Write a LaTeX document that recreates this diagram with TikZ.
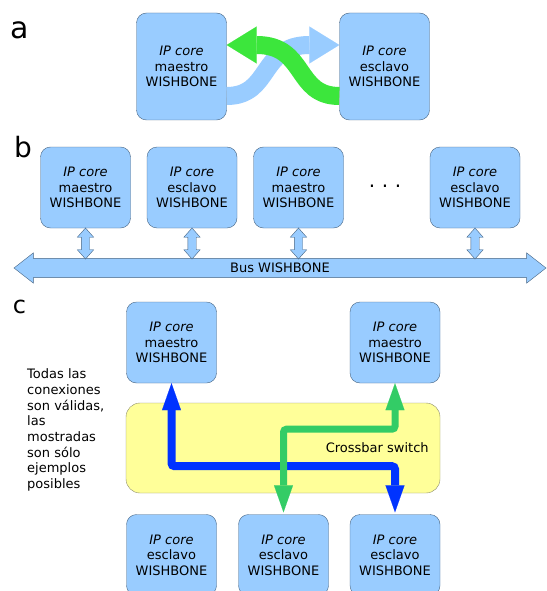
\documentclass[tikz,border=0pt]{standalone}
\usepackage{fontspec}
\setmainfont{DejaVu Sans}
\usetikzlibrary{arrows.meta,shapes.arrows,positioning}

\definecolor{boxfill}{RGB}{153,204,255}
\definecolor{boxline}{RGB}{70,100,130}
\definecolor{xbarfill}{RGB}{255,255,153}
\definecolor{xbarline}{RGB}{140,140,110}
\definecolor{greenA}{RGB}{60,230,60}
\definecolor{greenC}{RGB}{51,204,102}
\definecolor{blueC}{RGB}{0,51,255}

\newcommand{\ipmaestro}{\textit{IP core}\\maestro\\WISHBONE}
\newcommand{\ipesclavo}{\textit{IP core}\\esclavo\\WISHBONE}

\tikzset{
    core/.style={draw=boxline, fill=boxfill, rounded corners=10pt, minimum width=90pt, minimum height=81pt, align=center, inner sep=0pt, font=\fontsize{13}{15.5}\selectfont},
    tall/.style={minimum height=107pt},
    part/.style={font=\fontsize{#1}{#1}\selectfont, inner sep=0pt},
    updown/.style={double arrow, draw=boxline, fill=boxfill, rotate=90, minimum height=31pt, inner sep=4pt, double arrow head extend=4pt, double arrow tip angle=83},
    curvy/.style={line width=18pt, -{Triangle[length=30pt, width=37pt, line width=0.1pt]}},
    route/.style={rounded corners=3pt, {Triangle[length=27pt, width=19pt, line width=0.1pt]}-{Triangle[length=27pt, width=19pt, line width=0.1pt]}}
}

\begin{document}
\begin{tikzpicture}[x=1pt, y=-1pt]
    \path[use as bounding box, fill=white] (0,0) rectangle (546,591);

    % a
    \node[part=30] (la) at (20,30.5) {a};
    \node[core, tall] (a1) at (181.5,66.5) {\ipmaestro};
    \node[core, tall] (a2) at (384.5,66.5) {\ipesclavo};
    \draw[curvy, boxfill] ([yshift=-29.5pt]a1.east) .. controls +(45,0) and +(-80,0) .. ([yshift=21.5pt]a2.west);
    \draw[curvy, greenA] ([yshift=-29.5pt]a2.west) .. controls +(-45,0) and +(80,0) .. ([yshift=21.5pt]a1.east);

    % b
    \node[part=28] (lb) at (23,147.5) {b};
    \node[core] (b1) at (85.5,187.5) {\ipmaestro};
    \node[core] (b2) at (192,187.5) {\ipesclavo};
    \node[core] (b3) at (298.5,187.5) {\ipmaestro};
    \node[core] (b4) at (475,187.5) {\ipesclavo};
    \node[font=\fontsize{20}{20}\selectfont] (dots) at (385,186) {.\,\,.\,\,.};
    \node[double arrow, draw=boxline, fill=boxfill, minimum height=532pt, inner sep=4.5pt, double arrow head extend=5.5pt, double arrow tip angle=76, font=\fontsize{13}{15}\selectfont] (bus) at (280,268) {Bus WISHBONE};
    \foreach \n in {b1,b2,b3,b4}
        \node[updown] (\n-bus) at (\n.south |- 0,243.5) {};

    % c
    \node[part=24] (lc) at (19.5,306.5) {c};
    \node[core] (c1) at (171.5,342.5) {\ipmaestro};
    \node[core] (c2) at (395,342.5) {\ipmaestro};
    \node[draw=xbarline, fill=xbarfill, rounded corners=14pt, minimum width=314pt, minimum height=90pt] (xbar) at (283,448) {};
    \node[core] (c3) at (171.5,555) {\ipesclavo};
    \node[core] (c4) at (283.5,555) {\ipesclavo};
    \node[core] (c5) at (395,555) {\ipesclavo};
    \draw[route, line width=8pt, blueC, shorten >=2pt] (c1.south) -- ++(0,83) -| (c5.north);
    \draw[route, line width=7pt, greenC, shorten >=2pt] (c2.south) -- ++(0,46) -| (c4.north);
    \node[left=8pt of xbar.east, font=\fontsize{13}{15}\selectfont] (xlabel) {Crossbar switch};
    \node[anchor=west, align=left, inner sep=0pt, font=\fontsize{13}{15.7}\selectfont] (note) at (27,430)
        {Todas las\\conexiones\\son válidas,\\las\\mostradas\\son sólo\\ejemplos\\posibles};
\end{tikzpicture}
\end{document}
